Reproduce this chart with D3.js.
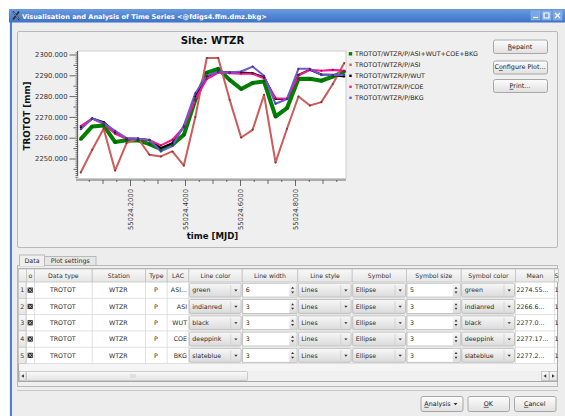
<!DOCTYPE html>
<html>
<head>
<meta charset="utf-8">
<script src="https://cdn.jsdelivr.net/npm/d3@7"></script>
<style>
  body { margin: 0; background: #ffffff; }
  svg { display: block; font-family: "DejaVu Sans", sans-serif; }
</style>
</head>
<body>
<svg id="app" width="565" height="416"></svg>
<script>
// ---- Data: hourly tropospheric total delay at WTZR (MJD 55024) ----
const epochs = [55024.0208, 55024.0625, 55024.1042, 55024.1458, 55024.1875, 55024.2292,
                55024.2708, 55024.3125, 55024.3542, 55024.3958, 55024.4375, 55024.4792,
                55024.5208, 55024.5625, 55024.6042, 55024.6458, 55024.6875, 55024.7292,
                55024.7708, 55024.8125, 55024.8542, 55024.8958, 55024.9375, 55024.9792];

const trototCombined = [2259.3, 2265.4, 2265.9, 2257.9, 2258.8, 2258.7, 2256.9, 2254.5,
                        2256.6, 2261.4, 2278.2, 2291.3, 2293.1, 2287.8, 2283.4, 2286.3,
                        2287.0, 2270.2, 2274.2, 2288.3, 2288.3, 2287.4, 2289.4, 2291.8];
const trototAsi = [2243.3, 2254.2, 2264.3, 2244.2, 2257.4, 2259.6, 2251.8, 2251.0,
                   2253.4, 2246.6, 2269.9, 2298.3, 2298.3, 2278.2, 2260.1, 2263.8,
                   2280.6, 2248.1, 2264.3, 2279.8, 2275.5, 2277.1, 2285.8, 2295.9];
const trototWut = [2265.0, 2269.2, 2267.5, 2262.6, 2259.5, 2259.5, 2258.8, 2255.0,
                   2257.4, 2265.4, 2279.8, 2289.4, 2291.7, 2291.3, 2291.3, 2291.0,
                   2289.1, 2278.6, 2278.6, 2290.2, 2292.7, 2290.4, 2290.1, 2289.4];
const trototCoe = [2265.6, 2269.2, 2266.7, 2261.9, 2259.5, 2259.5, 2258.8, 2256.3,
                   2259.0, 2265.1, 2278.6, 2288.2, 2291.3, 2291.0, 2290.7, 2290.7,
                   2288.5, 2279.0, 2278.7, 2289.9, 2292.6, 2292.2, 2292.6, 2292.2];
const trototBkg = [2264.1, 2269.2, 2267.0, 2263.3, 2259.8, 2259.5, 2259.0, 2253.4,
                   2256.1, 2265.7, 2281.4, 2289.8, 2291.7, 2291.3, 2291.8, 2294.2,
                   2289.8, 2276.3, 2278.6, 2293.1, 2293.1, 2290.2, 2290.2, 2290.1];

const seriesNames = ["TROTOT/WTZR/P/ASI+WUT+COE+BKG", "TROTOT/WTZR/P/ASI", "TROTOT/WTZR/P/WUT",
                     "TROTOT/WTZR/P/COE", "TROTOT/WTZR/P/BKG"];
const seriesValues = [trototCombined, trototAsi, trototWut, trototCoe, trototBkg];
const lineColors = ["green", "indianred", "black", "deeppink", "slateblue"];
const lineWidths = [6, 3, 3, 3, 3];
const symbolSizes = [5, 3, 3, 3, 3];

const yTickValues = [2250, 2260, 2270, 2280, 2290, 2300];
const xTickValues = [55024.2, 55024.4, 55024.6, 55024.8];

// ---- Data table contents ----
const tableHeaders = ["", "o", "Data type", "Station", "Type", "LAC", "Line color", "Line width",
                      "Line style", "Symbol", "Symbol size", "Symbol color", "Mean", "S"];
const lacCodes = ["ASI...", "ASI", "WUT", "COE", "BKG"];
const lineStyles = ["Lines", "Lines", "Lines", "Lines", "Lines"];
const symbolShapes = ["Ellipse", "Ellipse", "Ellipse", "Ellipse", "Ellipse"];
const meanLabels = ["2274.55...", "2266.6...", "2277.0...", "2277.17...", "2277.2..."];

// ---- Helpers ----
const svg = d3.select("#app");
const defs = svg.append("defs");
function vgrad(id, stops) {
  const g = defs.append("linearGradient").attr("id", id)
    .attr("x1", 0).attr("y1", 0).attr("x2", 0).attr("y2", 1);
  stops.forEach(([o, c]) => g.append("stop").attr("offset", o).attr("stop-color", c));
}
vgrad("titleGrad", [[0, "#6a9be0"], [1, "#3d72c6"]]);
vgrad("btnGrad", [[0, "#fdfdfd"], [1, "#e0e0e0"]]);
vgrad("hdrGrad", [[0, "#f8f8f8"], [1, "#e6e6e6"]]);
vgrad("comboGrad", [[0, "#f8f8f8"], [1, "#dadada"]]);
vgrad("thumbGrad", [[0, "#fafafa"], [1, "#e4e4e4"]]);

function label(g, x, y, text, opts = {}) {
  return g.append("text").attr("x", x).attr("y", y)
    .attr("font-size", opts.size || 6.4)
    .attr("font-weight", opts.bold ? "bold" : null)
    .attr("text-anchor", opts.anchor || "start")
    .attr("fill", opts.fill || "#2a2a2a")
    .text(text);
}
// text with one underlined mnemonic character
function mnemonic(g, x, y, text, idx, size) {
  const t = g.append("text").attr("x", x).attr("y", y).attr("font-size", size)
    .attr("text-anchor", "middle").attr("fill", "#222");
  if (idx > 0) t.append("tspan").text(text.slice(0, idx));
  t.append("tspan").attr("text-decoration", "underline").text(text[idx]);
  t.append("tspan").text(text.slice(idx + 1));
  return t;
}
function button(g, x, y, w, h, text, idx, arrow) {
  g.append("rect").attr("x", x + 0.5).attr("y", y + 0.5).attr("width", w).attr("height", h)
    .attr("rx", 2).attr("fill", "url(#btnGrad)").attr("stroke", "#a7a7a7");
  mnemonic(g, x + w / 2 + (arrow ? -4 : 0), y + h / 2 + 2.4, text, idx, 6.4);
  if (arrow) {
    g.append("path").attr("d", `M${x + w - 9},${y + h / 2 - 0.5}h4l-2,2.2z`).attr("fill", "#333");
  }
}

// ---- Window frame ----
svg.append("rect").attr("x", 9).attr("y", 9).attr("width", 556).attr("height", 407).attr("fill", "#ededed");
svg.append("rect").attr("x", 10).attr("y", 9).attr("width", 2).attr("height", 407).attr("fill", "#4c82d0");
svg.append("rect").attr("x", 9).attr("y", 9).attr("width", 556).attr("height", 13.5).attr("fill", "url(#titleGrad)");
svg.append("path").attr("d", "M13,11.5L19,19.5M19,11.5L13,19.5").attr("stroke", "#2b2b2b").attr("stroke-width", 1.6);
svg.append("path").attr("d", "M13.5,12L18.5,19").attr("stroke", "#dddddd").attr("stroke-width", 0.6);
label(svg, 22, 18.6, "Visualisation and Analysis of Time Series <@fdigs4.ffm.dmz.bkg>",
      { size: 6.6, bold: true, fill: "#ffffff" });
const wb = svg.append("g");
[531, 542, 553].forEach((bx, i) => {
  wb.append("rect").attr("x", bx).attr("y", 11).attr("width", 9).attr("height", 9)
    .attr("fill", "#7aa6e4").attr("stroke", "#9fc0ee").attr("stroke-width", 0.5);
  const d = i === 0 ? `M${bx + 2},${bx ? 17.5 : 0}h5`
          : i === 1 ? `M${bx + 2},13h5v5h-5z`
          : `M${bx + 2},13L${bx + 7},18M${bx + 7},13L${bx + 2},18`;
  wb.append("path").attr("d", d).attr("fill", "none").attr("stroke", "#ffffff").attr("stroke-width", 1.2);
});

// ---- Plot group box ----
svg.append("rect").attr("x", 17.5).attr("y", 31.5).attr("width", 540).attr("height", 216)
  .attr("fill", "#efefef").attr("stroke", "#b9b9b9").attr("rx", 1.5);

// Plot layout
const canvas = { left: 78, right: 346, top: 51, bottom: 178.5 };
const x = d3.scaleLinear().domain([55024.2, 55024.8]).range([130, 295]);
const y = d3.scaleLinear().domain([2250, 2300]).range([158.5, 54.5]);

const plot = svg.append("g");
label(plot, 212.5, 44, "Site: WTZR", { size: 10.2, bold: true, anchor: "middle", fill: "#111" });
plot.append("rect").attr("x", canvas.left).attr("y", canvas.top)
  .attr("width", canvas.right - canvas.left).attr("height", canvas.bottom - canvas.top)
  .attr("fill", "#ffffff").attr("stroke", "#cdcdcd").attr("stroke-width", 1);

// Y axis: labelled ticks plus minor ticks every millimetre
const yMinor = d3.range(2241, 2302, 1);
const yAxisMinor = plot.append("g").attr("transform", "translate(77.5,0)")
  .call(d3.axisLeft(y).tickValues(yMinor.filter(v => v % 5 !== 0)).tickSize(2).tickFormat(""));
const yAxisMid = plot.append("g").attr("transform", "translate(77.5,0)")
  .call(d3.axisLeft(y).tickValues(yMinor.filter(v => v % 5 === 0 && v % 10 !== 0)).tickSize(4).tickFormat(""));
const yAxis = plot.append("g").attr("transform", "translate(77.5,0)")
  .call(d3.axisLeft(y).tickValues(yTickValues).tickSize(8).tickPadding(2).tickFormat(d3.format(".3f")));
[yAxisMinor, yAxisMid, yAxis].forEach(a => {
  a.select(".domain").remove();
  a.selectAll("line").attr("stroke", "#444").attr("stroke-width", 0.8);
});
yAxis.selectAll("text").attr("font-size", 6.8).attr("fill", "#333").attr("font-family", "DejaVu Sans");
plot.append("line").attr("x1", 77.5).attr("x2", 77.5).attr("y1", canvas.top).attr("y2", 176)
  .attr("stroke", "#444").attr("stroke-width", 0.8);

// X axis: labelled ticks every 0.2 d, medium every 0.1 d, minor every 0.05 d
const xMinor = d3.range(55024.05, 55025.0, 0.05).map(v => +v.toFixed(2)).filter(v => v <= 55024.95);
const xAxisMinor = plot.append("g").attr("transform", "translate(0,180)")
  .call(d3.axisBottom(x).tickValues(xMinor.filter(v => Math.round(v * 100) % 10 !== 0)).tickSize(2).tickFormat(""));
const xAxisMid = plot.append("g").attr("transform", "translate(0,180)")
  .call(d3.axisBottom(x).tickValues(xMinor.filter(v => Math.round(v * 100) % 10 === 0 && Math.round(v * 100) % 20 !== 0)).tickSize(4).tickFormat(""));
const xAxis = plot.append("g").attr("transform", "translate(0,180)")
  .call(d3.axisBottom(x).tickValues(xTickValues).tickSize(6).tickFormat(d3.format(".4f")));
[xAxisMinor, xAxisMid, xAxis].forEach(a => {
  a.select(".domain").remove();
  a.selectAll("line").attr("stroke", "#444").attr("stroke-width", 0.8);
});
xAxis.selectAll("text")
  .attr("font-size", 6.8).attr("fill", "#333").attr("font-family", "DejaVu Sans")
  .attr("transform", "rotate(-90)").attr("text-anchor", "end")
  .attr("x", -9).attr("y", 0).attr("dy", "0.35em");
plot.append("line").attr("x1", 76).attr("x2", canvas.right).attr("y1", 180).attr("y2", 180)
  .attr("stroke", "#444").attr("stroke-width", 0.8);

label(plot, 212.5, 238.5, "time [MJD]", { size: 8.6, bold: true, anchor: "middle", fill: "#111" });
label(plot, 0, 0, "TROTOT [mm]", { size: 8.8, bold: true, anchor: "middle", fill: "#111" })
  .attr("transform", "translate(30,116) rotate(-90)");

// Curves
const curves = plot.append("g");
const lineGen = vals => d3.line().x((d, i) => x(epochs[i])).y(d => y(d))(vals);
seriesValues.forEach((vals, s) => {
  curves.append("path").attr("d", lineGen(vals)).attr("fill", "none")
    .attr("stroke", lineColors[s]).attr("stroke-width", lineWidths[s] * 0.68)
    .attr("stroke-linejoin", "round");
});
seriesValues.forEach((vals, s) => {
  curves.append("g").selectAll("circle").data(vals).join("circle")
    .attr("cx", (d, i) => x(epochs[i])).attr("cy", d => y(d))
    .attr("r", symbolSizes[s] * 0.34)
    .attr("fill", d3.color(lineColors[s]).darker(s === 0 ? 0.6 : 1.4))
    .attr("stroke", "none");
});

// Legend
const legend = plot.append("g");
seriesNames.forEach((n, i) => {
  const ly = 56 + i * 11;
  const sz = i === 0 ? 3.4 : 2.4;
  legend.append("rect").attr("x", 350.5 - sz / 2).attr("y", ly - 2.2 - sz / 2)
    .attr("width", sz).attr("height", sz).attr("fill", lineColors[i]);
  label(legend, 355, ly, n, { size: 6.35, fill: "#1e1e1e" });
});

// Plot buttons
const pb = svg.append("g");
button(pb, 493, 39.5, 54, 13.5, "Repaint", 0);
button(pb, 493, 60.5, 54, 13, "Configure Plot...", 1);
button(pb, 493, 79, 54, 13, "Print...", 0);

// ---- Tabs ----
const tabs = svg.append("g");
tabs.append("rect").attr("x", 17.5).attr("y", 265.5).attr("width", 540).attr("height", 121)
  .attr("fill", "#efefef").attr("stroke", "#b9b9b9");
tabs.append("rect").attr("x", 44.5).attr("y", 256.5).attr("width", 51.5).attr("height", 9)
  .attr("fill", "#e6e6e6").attr("stroke", "#b9b9b9");
tabs.append("rect").attr("x", 19.5).attr("y", 255).attr("width", 25).attr("height", 11)
  .attr("fill", "#efefef").attr("stroke", "#b9b9b9");
tabs.append("line").attr("x1", 20).attr("x2", 44).attr("y1", 265.5).attr("y2", 265.5)
  .attr("stroke", "#efefef").attr("stroke-width", 1.5);
label(tabs, 32, 262.8, "Data", { size: 6.3, anchor: "middle" });
label(tabs, 70.2, 263, "Plot settings", { size: 6.3, anchor: "middle" });

// ---- Table ----
const colX = [18, 26, 34, 91.7, 145, 166.7, 188.3, 241.7, 297.3, 351.7, 406, 460.7, 515, 554, 558];
const headTop = 269, headBottom = 282, rowH = 16.3;
const tbl = svg.append("g");
tbl.append("rect").attr("x", 18.5).attr("y", 268.5).attr("width", 539).attr("height", 113)
  .attr("fill", "#f5f5f5").attr("stroke", "#a9a9a9");
tbl.append("rect").attr("x", 19).attr("y", headBottom).attr("width", 538).attr("height", rowH * 5)
  .attr("fill", "#ffffff");
// header cells
tableHeaders.forEach((h, c) => {
  const x0 = colX[c], x1 = colX[c + 1];
  tbl.append("rect").attr("x", x0 + 0.5).attr("y", headTop).attr("width", x1 - x0)
    .attr("height", headBottom - headTop).attr("fill", "url(#hdrGrad)").attr("stroke", "#c2c2c2").attr("stroke-width", 0.8);
  label(tbl, (x0 + x1) / 2 + 0.5, headTop + 9, h, { size: 6.2, anchor: "middle", fill: "#333" });
});

function combo(g, x0, x1, y0, text) {
  g.append("rect").attr("x", x0 + 1).attr("y", y0 + 1.2).attr("width", x1 - x0 - 1.5).attr("height", rowH - 2.4)
    .attr("rx", 1.5).attr("fill", "url(#comboGrad)").attr("stroke", "#b4b4b4").attr("stroke-width", 0.8);
  g.append("line").attr("x1", x1 - 11).attr("x2", x1 - 11).attr("y1", y0 + 3).attr("y2", y0 + rowH - 3)
    .attr("stroke", "#c8c8c8").attr("stroke-width", 0.6);
  g.append("path").attr("d", `M${x1 - 7.5},${y0 + rowH / 2 - 0.6}h3.4l-1.7,1.9z`).attr("fill", "#333");
  label(g, x0 + 4, y0 + rowH / 2 + 2.3, text, { size: 6.3 });
}
function spin(g, x0, x1, y0, text) {
  g.append("rect").attr("x", x0 + 1).attr("y", y0 + 1.2).attr("width", x1 - x0 - 1.5).attr("height", rowH - 2.4)
    .attr("fill", "#ffffff").attr("stroke", "#b4b4b4").attr("stroke-width", 0.8);
  g.append("rect").attr("x", x1 - 8).attr("y", y0 + 1.6).attr("width", 7.2).attr("height", rowH - 3.2)
    .attr("fill", "url(#comboGrad)");
  g.append("path").attr("d", `M${x1 - 6.2},${y0 + rowH / 2 - 1.3}h3l-1.5,-2z M${x1 - 6.2},${y0 + rowH / 2 + 1.3}h3l-1.5,2z`)
    .attr("fill", "#333");
  label(g, x0 + 4, y0 + rowH / 2 + 2.3, text, { size: 6.3 });
}

lacCodes.forEach((lac, r) => {
  const y0 = headBottom + r * rowH, ym = y0 + rowH / 2 + 2.3;
  const row = tbl.append("g");
  // grid lines
  colX.slice(1, -1).forEach(cx => row.append("line").attr("x1", cx + 0.5).attr("x2", cx + 0.5)
    .attr("y1", y0).attr("y2", y0 + rowH).attr("stroke", "#d4d4d4").attr("stroke-width", 0.7));
  row.append("line").attr("x1", 19).attr("x2", 557).attr("y1", y0 + rowH).attr("y2", y0 + rowH)
    .attr("stroke", "#d4d4d4").attr("stroke-width", 0.7);
  // row number header
  row.append("rect").attr("x", 18.5).attr("y", y0).attr("width", 7.5).attr("height", rowH)
    .attr("fill", "url(#hdrGrad)").attr("stroke", "#c2c2c2").attr("stroke-width", 0.7);
  label(row, 22.3, ym, String(r + 1), { size: 6.3, anchor: "middle", fill: "#333" });
  // visibility mark
  row.append("rect").attr("x", 27.6).attr("y", y0 + rowH / 2 - 2.6).attr("width", 5.2).attr("height", 5.2)
    .attr("fill", "#2b2b2b");
  row.append("path").attr("d", `M28.4,${y0 + rowH / 2 - 1.8}l3.6,3.6M32,${y0 + rowH / 2 - 1.8}l-3.6,3.6`)
    .attr("stroke", "#e8e8e8").attr("stroke-width", 0.7);
  label(row, 62.8, ym, "TROTOT", { size: 6.3, anchor: "middle" });
  label(row, 118.3, ym, "WTZR", { size: 6.3, anchor: "middle" });
  label(row, 156, ym, "P", { size: 6.3, anchor: "middle" });
  label(row, 187, ym, lac, { size: 6.3, anchor: "end" });
  combo(row, colX[6], colX[7], y0, lineColors[r]);
  spin(row, colX[7], colX[8], y0, String(lineWidths[r]));
  combo(row, colX[8], colX[9], y0, lineStyles[r]);
  combo(row, colX[9], colX[10], y0, symbolShapes[r]);
  spin(row, colX[10], colX[11], y0, String(symbolSizes[r]));
  combo(row, colX[11], colX[12], y0, lineColors[r]);
  label(row, 516.5, ym, meanLabels[r], { size: 6.3 });
  label(row, 554.5, ym, "1", { size: 6.3 });
});

// Horizontal scroll bar
const sb = svg.append("g");
sb.append("rect").attr("x", 19).attr("y", 371).attr("width", 538).attr("height", 10).attr("fill", "#f0f0f0");
sb.append("rect").attr("x", 19.5).attr("y", 371.5).attr("width", 6.5).attr("height", 9)
  .attr("fill", "url(#thumbGrad)").attr("stroke", "#b0b0b0").attr("stroke-width", 0.6);
sb.append("path").attr("d", "M21.3,376l2.6,-1.8v3.6z").attr("fill", "#333");
sb.append("rect").attr("x", 26.5).attr("y", 371.5).attr("width", 221).attr("height", 9)
  .attr("rx", 1).attr("fill", "url(#thumbGrad)").attr("stroke", "#b0b0b0").attr("stroke-width", 0.6);
[0, 1, 2].forEach(k => sb.append("line").attr("x1", 131 + k * 2).attr("x2", 131 + k * 2)
  .attr("y1", 374).attr("y2", 378).attr("stroke", "#c4c4c4").attr("stroke-width", 0.7));
[541, 549].forEach((bx, k) => {
  sb.append("rect").attr("x", bx + 0.5).attr("y", 371.5).attr("width", 7.5).attr("height", 9)
    .attr("fill", "url(#thumbGrad)").attr("stroke", "#b0b0b0").attr("stroke-width", 0.6);
  sb.append("path").attr("d", k === 0 ? `M${bx + 2.6},376l2.6,-1.8v3.6z` : `M${bx + 5.6},376l-2.6,-1.8v3.6z`)
    .attr("fill", "#333");
});

// ---- Dialog buttons ----
svg.append("line").attr("x1", 17).attr("x2", 558).attr("y1", 390.5).attr("y2", 390.5)
  .attr("stroke", "#bdbdbd").attr("stroke-width", 0.8);
const db = svg.append("g");
button(db, 420.5, 396, 42, 15, "Analysis", 0, true);
button(db, 467.5, 396, 41.5, 15, "OK", 0);
button(db, 514, 396, 41.5, 15, "Cancel", 0);
</script>
</body>
</html>
